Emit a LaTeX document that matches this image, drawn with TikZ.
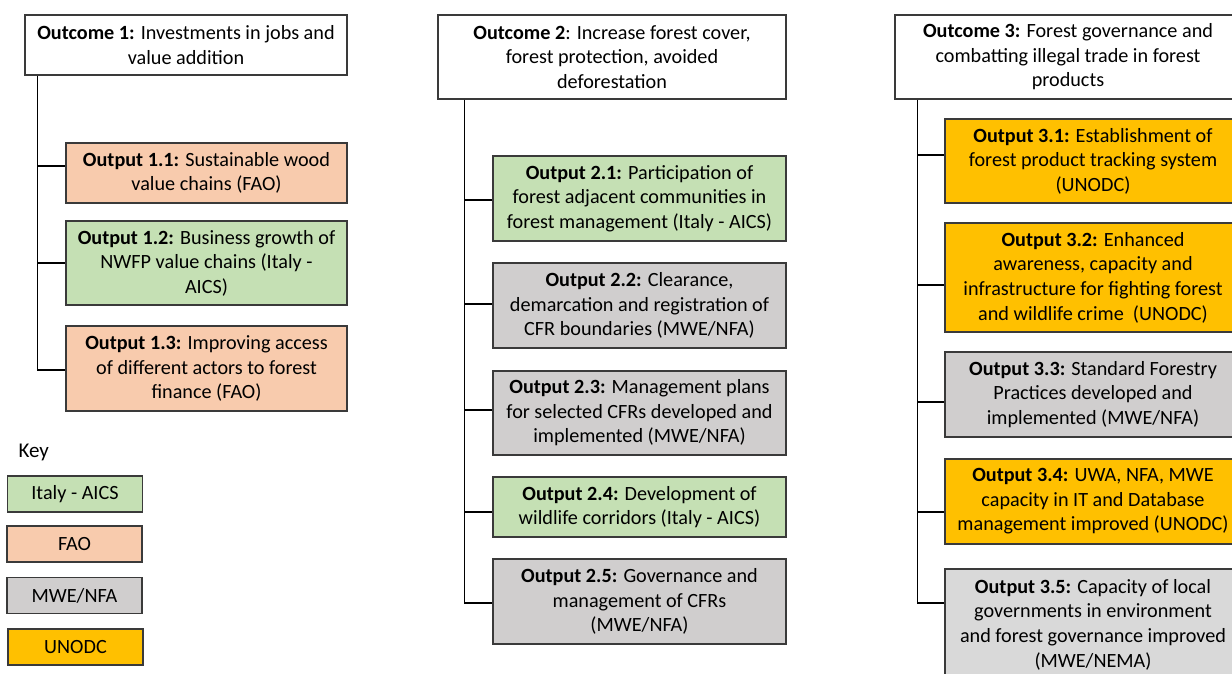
\documentclass[tikz,border=0pt]{standalone}
\usepackage{fontspec}
\setmainfont{Carlito}
\usetikzlibrary{calc}
\definecolor{aicsgreen}{HTML}{C5E0B4}
\definecolor{faosalmon}{HTML}{F8CBAD}
\definecolor{nfagrey}{HTML}{D0CECE}
\definecolor{nemagrey}{HTML}{D9D9D9}
\definecolor{unodcgold}{HTML}{FFC000}
\definecolor{boxedge}{HTML}{3A3A3A}

\begin{document}
\begin{tikzpicture}[x=1pt,y=-1pt,
  box/.style={draw=boxedge,line width=1.3pt,align=center,inner sep=0pt,
    font=\fontsize{20.2}{24.6}\selectfont},
  outcome/.style={box,fill=white},
  aics/.style={box,fill=aicsgreen},
  fao/.style={box,fill=faosalmon},
  nfa/.style={box,fill=nfagrey},
  nema/.style={box,fill=nemagrey},
  unodc/.style={box,fill=unodcgold},
  keybox/.style={minimum width=135,minimum height=36},
  spine/.style={line width=1.2pt,black}]
  \clip (0,0) rectangle (1232,673);
  \fill[white] (0,0) rectangle (1232,673);

  \node[outcome,minimum width=322,minimum height=60] (oc1) at (186,45)
    {\textbf{Outcome 1:} Investments in jobs and\\value addition};
  \node[fao,minimum width=281,minimum height=60] (op11) at (206.5,173)
    {\textbf{Output 1.1:} Sustainable wood\\value chains (FAO)};
  \node[aics,minimum width=281,minimum height=84] (op12) at (206.5,263)
    {\textbf{Output 1.2:} Business growth of\\NWFP value chains (Italy -\\AICS)};
  \node[fao,minimum width=281,minimum height=85] (op13) at (206.5,368.5)
    {\textbf{Output 1.3:} Improving access\\of different actors to forest\\finance (FAO)};

  \node[outcome,minimum width=348,minimum height=84] (oc2) at (612,57)
    {\textbf{Outcome 2}: Increase forest cover,\\forest protection, avoided\\deforestation};
  \node[aics,minimum width=293,minimum height=85] (op21) at (639.5,198.5)
    {\textbf{Output 2.1:} Participation of\\forest adjacent communities in\\forest management (Italy - AICS)};
  \node[nfa,minimum width=293,minimum height=85] (op22) at (639.5,305.5)
    {\textbf{Output 2.2:} Clearance,\\demarcation and registration of\\CFR boundaries (MWE/NFA)};
  \node[nfa,minimum width=293,minimum height=84] (op23) at (639.5,413)
    {\textbf{Output 2.3:} Management plans\\for selected CFRs developed and\\implemented (MWE/NFA)};
  \node[aics,minimum width=293,minimum height=60] (op24) at (639.5,507)
    {\textbf{Output 2.4:} Development of\\wildlife corridors (Italy - AICS)};
  \node[nfa,minimum width=293,minimum height=85] (op25) at (639.5,601.5)
    {\textbf{Output 2.5:} Governance and\\management of CFRs\\(MWE/NFA)};

  \node[outcome,minimum width=346,minimum height=84] (oc3) at (1068,57)
    {\textbf{Outcome 3:} Forest governance and\\combatting illegal trade in forest\\products};
  \node[unodc,minimum width=296,minimum height=84] (op31) at (1093,161)
    {\textbf{Output 3.1:} Establishment of\\forest product tracking system\\(UNODC)};
  \node[unodc,minimum width=296,minimum height=109] (op32) at (1093,277.5)
    {\textbf{Output 3.2:} Enhanced\\awareness, capacity and\\infrastructure for fighting forest\\and wildlife crime\ \ (UNODC)};
  \node[nfa,minimum width=296,minimum height=85] (op33) at (1093,394.5)
    {\textbf{Output 3.3:} Standard Forestry\\Practices developed and\\implemented (MWE/NFA)};
  \node[unodc,minimum width=296,minimum height=85] (op34) at (1093,501.5)
    {\textbf{Output 3.4:} UWA, NFA, MWE\\capacity in IT and Database\\management improved (UNODC)};
  \node[nema,minimum width=296,minimum height=111] (op35) at (1093,624.5)
    {\textbf{Output 3.5:} Capacity of local\\governments in environment\\and forest governance improved\\(MWE/NEMA)};

  \coordinate (s1) at ($(oc1.south west)+(13,0)$);
  \coordinate (s2) at ($(oc2.south west)+(27,0)$);
  \coordinate (s3) at ($(oc3.south west)+(23,0)$);
  \draw[spine] (s1) -- (s1 |- 0,370);
  \draw[spine] (s2) -- (s2 |- 0,603);
  \draw[spine] (s3) -- (s3 |- 0,603);
  \foreach \n/\y in {op11/166,op12/263,op13/370}
    \draw[spine] (s1 |- 0,\y) -- (\n.west |- 0,\y);
  \foreach \n/\y in {op21/200,op22/304,op23/410,op24/512,op25/603}
    \draw[spine] (s2 |- 0,\y) -- (\n.west |- 0,\y);
  \foreach \n/\y in {op31/155,op32/285,op33/402,op34/512,op35/603}
    \draw[spine] (s3 |- 0,\y) -- (\n.west |- 0,\y);

  \node[anchor=west,font=\fontsize{21}{24}\selectfont] (key) at (15,452) {Key};
  \node[aics,keybox] (kaics) at (75,494) {Italy - AICS};
  \node[fao,keybox] (kfao) at (74.5,544) {FAO};
  \node[nfa,keybox] (knfa) at (74.5,595.5) {MWE/NFA};
  \node[unodc,keybox] (kunodc) at (75.5,647) {UNODC};
\end{tikzpicture}
\end{document}
